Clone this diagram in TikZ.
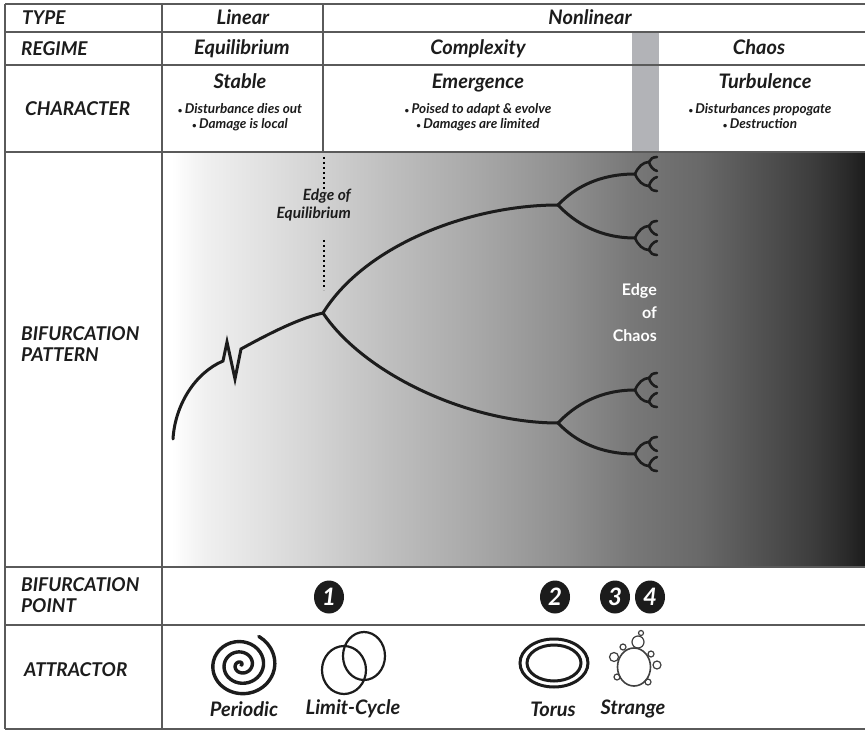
\documentclass[tikz,border=0pt]{standalone}
\usepackage{fontspec}
\setmainfont{Lato}
\usepackage{xcolor}
\usetikzlibrary{positioning, shapes.geometric}
\definecolor{rulegray}{HTML}{5A5A5A}
\definecolor{bandgray}{HTML}{B2B3B7}
\definecolor{inkdark}{HTML}{1C1C1C}
\newcommand{\notedot}{{\fontsize{8}{8}\selectfont\textbullet}\,}
\pgfdeclarehorizontalshading{bifshade}{100bp}{
  color(0bp)=(white); color(25.7bp)=(white); color(28.1bp)=(white!94!black);
  color(34.5bp)=(white!85!black); color(40.9bp)=(white!75!black);
  color(47.3bp)=(white!66!black); color(53.7bp)=(white!56!black);
  color(58.4bp)=(white!47!black); color(63.3bp)=(white!41!black);
  color(68bp)=(white!31!black); color(71.2bp)=(white!24!black);
  color(73.8bp)=(white!16!black); color(75bp)=(white!11!black); color(100bp)=(white!11!black)}
\begin{document}
\begin{tikzpicture}[x=1pt, y=-1pt,
  rowlabel/.style={font=\fontsize{19}{21}\selectfont\bfseries\itshape, text=inkdark,
                   anchor=west, align=left, inner sep=0pt},
  heading/.style={font=\fontsize{20}{22}\selectfont\bfseries\itshape, text=inkdark, inner sep=0pt, anchor=base},
  bullets/.style={font=\fontsize{13.5}{15}\selectfont\bfseries\itshape, text=inkdark,
                  align=center, inner sep=0pt},
  gridline/.style={draw=rulegray, line width=1.4pt},
  branch/.style={draw=inkdark, line width=3pt, line cap=round, line join=miter},
  twig/.style={draw=inkdark, line width=2.6pt, line cap=round},
  numdot/.style={ellipse, fill=inkdark, minimum width=30pt, minimum height=33pt, inner sep=0pt,
                 text=white, font=\fontsize{24}{24}\selectfont\bfseries\itshape},
  attrname/.style={font=\fontsize{20}{22}\selectfont\bfseries\itshape, text=inkdark, inner sep=0pt},
  orbit/.style={draw=inkdark, line width=2.2pt},
  bubble/.style={draw=black!75, line width=1.2pt}
]
  \useasboundingbox (0,0) rectangle (865,730);

  \fill[white] (0,0) rectangle (865,730);
  \fill[bandgray] (632,32) rectangle (659,152);
  \shade[shading=bifshade] (162,152) rectangle (865,567);

  \foreach \ry in {4,32,65,152,567,625,729}
    \draw[gridline] (5,\ry) -- (865,\ry);
  \draw[gridline] (5,4) -- (5,729);
  \draw[gridline] (162,4) -- (162,729);
  \draw[gridline] (323,4) -- (323,152);

  \node[rowlabel] (type) at (22,18) {TYPE};
  \node[rowlabel] (regime) at (21,49) {REGIME};
  \node[rowlabel] (character) at (25,109) {CHARACTER};
  \node[rowlabel] (pattern) at (21,344) {BIFURCATION\\PATTERN};
  \node[rowlabel] (point) at (21,595) {BIFURCATION\\POINT};
  \node[rowlabel] (attractor) at (24,670) {ATTRACTOR};

  \node[heading] (linear) at (243,25) {Linear};
  \node[heading] (nonlinear) at (590,25) {Nonlinear};
  \node[heading] (equilibrium) at (242,55) {Equilibrium};
  \node[heading] (complexity) at (478,55) {Complexity};
  \node[heading] (chaos) at (759,55) {Chaos};
  \node[heading] (stable) at (240,89) {Stable};
  \node[heading] (emergence) at (478,89) {Emergence};
  \node[heading] (turbulence) at (765,89) {Turbulence};
  \node[bullets, below=14pt of stable.base] (stablenotes) {\notedot Disturbance dies out\\\notedot Damage is local};
  \node[bullets, below=14pt of emergence.base] (emergencenotes) {\notedot Poised to adapt \& evolve\\\notedot Damages are limited};
  \node[bullets, below=14pt of turbulence.base, xshift=-5pt] (turbulencenotes) {\notedot Disturbances propogate\\\notedot Destruction};

  \coordinate (root) at (173,439);
  \coordinate (kinka) at (223,361);
  \coordinate (kinkb) at (227,342);
  \coordinate (kinkc) at (235,379);
  \coordinate (kinkd) at (241,349);
  \coordinate (fork) at (323,313);
  \coordinate (upfork) at (558,205);
  \coordinate (lowfork) at (558,423);

  \draw[branch] (root) .. controls (175,405) and (195,373) .. (kinka) -- (kinkb) -- (kinkc) -- (kinkd)
    .. controls (270,333) and (300,318) .. (fork);
  \draw[branch] (fork) .. controls (365,245) and (470,205) .. (upfork);
  \draw[branch] (fork) .. controls (365,375) and (470,423) .. (lowfork);

  \foreach \fx/\fy/\ty/\by in {558/205/174/238, 558/423/390/454} {
    \draw[branch] (\fx,\fy) .. controls (575,\fy-18) and (600,\ty) .. (635,\ty);
    \draw[branch] (\fx,\fy) .. controls (575,\fy+18) and (600,\by) .. (635,\by);
  }
  \foreach \sy in {174,238,390,454} {
    \draw[twig] (635,\sy) .. controls (638,\sy-7) and (643,\sy-12) .. (649,\sy-12);
    \draw[twig] (635,\sy) .. controls (638,\sy+7) and (643,\sy+12) .. (649,\sy+12);
    \draw[twig] (649,\sy-12) .. controls (650,\sy-15) and (653,\sy-17) .. (657,\sy-17);
    \draw[twig] (649,\sy-12) .. controls (650,\sy-8) and (653,\sy-4) .. (657,\sy-3);
    \draw[twig] (649,\sy+12) .. controls (650,\sy+8) and (653,\sy+4) .. (657,\sy+3);
    \draw[twig] (649,\sy+12) .. controls (650,\sy+15) and (653,\sy+17) .. (657,\sy+17);
  }

  \coordinate (dottop) at (324,157);
  \coordinate (dotmid) at (324,190);
  \coordinate (dotlow) at (324,240);
  \coordinate (dotend) at (324,290);
  \draw[black, line width=2pt, dash pattern=on 2pt off 3pt] (dottop) -- (dotmid);
  \draw[black, line width=2pt, dash pattern=on 2pt off 3pt] (dotlow) -- (dotend);

  \node[font=\fontsize{15.5}{18}\selectfont\bfseries\itshape, text=inkdark, align=right, inner sep=0pt,
        anchor=east] (edgeeq) at (351,205) {Edge of\\Equilibrium};
  \node[font=\fontsize{16}{23}\selectfont\bfseries, text=white, align=right, inner sep=0pt,
        anchor=east] (edgechaos) at (657,313) {Edge\\of\\Chaos};

  \node[numdot] (pointa) at (329,597) {1};
  \node[numdot] (pointb) at (555,597) {2};
  \node[numdot] (pointc) at (615,597) {3};
  \node[numdot] (pointd) at (650,597) {4};

  \draw[orbit, line width=3.4pt, line cap=round] plot[smooth, domain=0:1140, samples=120]
    ({241+(\x/1100)*34.4*cos(\x)},{665-(\x/1100)*31.8*sin(\x)});
  \draw[orbit] (344,670) ellipse (22 and 24);
  \draw[orbit] (364,656) ellipse (21 and 24);
  \draw[orbit, line width=3pt] (554,663) ellipse (34 and 24);
  \draw[orbit, line width=3pt] (554,663) ellipse (27 and 18);
  \draw[bubble, line width=1.6pt] (634,667) ellipse (16.5 and 19);
  \foreach \bx/\by/\br in {638/642/6, 641/633/2.5, 623/647/3, 614/657/4.5, 651/654/3, 657/665/4, 617/677/3, 648/682/3}
    \draw[bubble] (\bx,\by) circle (\br);

  \node[attrname] (periodic) at (244,709) {Periodic};
  \node[attrname] (limitcycle) at (353,709) {Limit-Cycle};
  \node[attrname] (torus) at (553,709) {Torus};
  \node[attrname] (strange) at (633,709) {Strange};
\end{tikzpicture}
\end{document}
